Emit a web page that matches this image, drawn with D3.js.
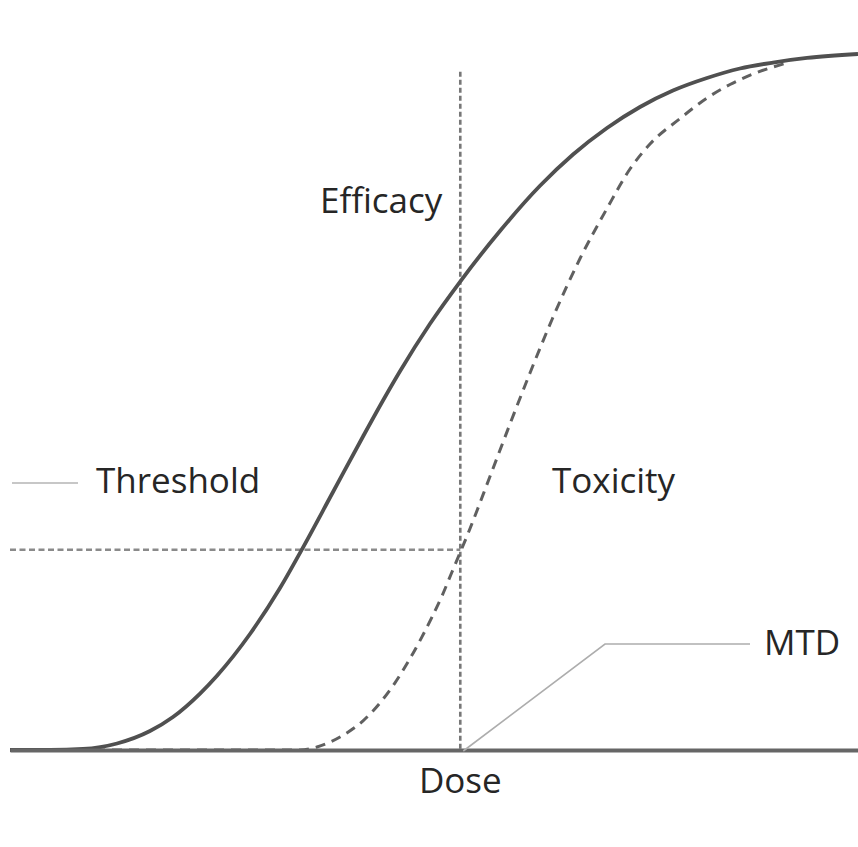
<!DOCTYPE html>
<html>
<head>
<meta charset="utf-8">
<script src="https://cdn.jsdelivr.net/npm/d3@7"></script>
<style>
  html, body { margin: 0; padding: 0; background: #fff; }
  svg { display: block; }
  text { font-family: "Open Sans", "Noto Sans", sans-serif; fill: #262626; }
</style>
</head>
<body>
<svg id="chart" width="858" height="847"></svg>
<script>
// ---- Data (dose in % of range, response in %) ----
const efficacyDose = [0, 4.72, 8.61, 12.62, 16.51, 19.22, 22.41, 24.41, 28.30, 31.84, 34.43, 38.09, 41.63, 44.22, 45.99, 49.53, 53.07, 57.78, 62.50, 66.39, 70.40, 74.29, 78.18, 82.19, 86.08, 89.98, 93.99, 100];
const efficacyResp = [0, 0, 0.14, 0.93, 2.71, 4.71, 8.06, 10.61, 16.57, 23.14, 28.67, 36.86, 44.79, 50.43, 54.11, 60.89, 66.89, 74.14, 80.60, 85.07, 88.86, 91.86, 94.21, 96.00, 97.36, 98.21, 98.86, 99.43];

const toxicityDose = [0, 34.20, 36.20, 39.27, 41.63, 43.63, 45.40, 46.93, 48.58, 49.76, 50.94, 52.12, 54.25, 56.60, 58.96, 61.32, 63.92, 67.22, 70.40, 73.11, 75.47, 79.01, 82.19, 84.91, 87.62, 91.39];
const toxicityResp = [0, 0, 0.43, 2.10, 4.17, 6.73, 9.60, 12.56, 16.16, 18.99, 22.01, 25.43, 31.64, 39.07, 46.57, 53.86, 61.50, 70.21, 77.36, 83.00, 86.57, 90.21, 93.14, 95.07, 96.57, 98.07];

const mtdDose = 53.1;          // maximum tolerated dose
const thresholdResp = 28.6;    // efficacy threshold
const verticalTopResp = 96.9;  // top of MTD guide

const labels = ["Efficacy", "Threshold", "Toxicity", "MTD", "Dose"];

// ---- Layout ----
const svg = d3.select("#chart");
const x = d3.scaleLinear().domain([0, 100]).range([10, 858]);
const y = d3.scaleLinear().domain([0, 100]).range([750, 50]);

const zip = (xs, ys) => xs.map((d, i) => [d, ys[i]]);
const line = d3.line().x(d => x(d[0])).y(d => y(d[1])).curve(d3.curveMonotoneX);

// threshold horizontal dashed guide
svg.append("line")
  .attr("x1", x(0)).attr("x2", x(mtdDose))
  .attr("y1", y(thresholdResp)).attr("y2", y(thresholdResp))
  .attr("stroke", "#8a8a8a").attr("stroke-width", 2.5)
  .attr("stroke-dasharray", "6,3.5");

// MTD vertical dashed guide
svg.append("line")
  .attr("x1", x(mtdDose)).attr("x2", x(mtdDose))
  .attr("y1", y(verticalTopResp)).attr("y2", y(0))
  .attr("stroke", "#777").attr("stroke-width", 2.6)
  .attr("stroke-dasharray", "5,3");

// toxicity curve (dashed)
svg.append("path")
  .datum(zip(toxicityDose, toxicityResp))
  .attr("d", line)
  .attr("fill", "none")
  .attr("stroke", "#606060").attr("stroke-width", 3)
  .attr("stroke-dasharray", "10,7");

// efficacy curve (solid)
svg.append("path")
  .datum(zip(efficacyDose, efficacyResp))
  .attr("d", line)
  .attr("fill", "none")
  .attr("stroke", "#505050").attr("stroke-width", 3.8);

// dose axis (baseline)
const axis = d3.axisBottom(x).ticks(0).tickSize(0).tickSizeOuter(0);
const gAxis = svg.append("g").attr("transform", `translate(0,${y(0)})`).call(axis);
gAxis.select(".domain").attr("stroke", "#666").attr("stroke-width", 4);
gAxis.selectAll(".tick").remove();

// callout lines
svg.append("line")
  .attr("x1", 12).attr("x2", 78).attr("y1", 483).attr("y2", 483)
  .attr("stroke", "#b5b5b5").attr("stroke-width", 1.6);

svg.append("polyline")
  .attr("points", [[x(mtdDose) + 3, y(0) + 1], [605, 644], [750, 644]].map(p => p.join(",")).join(" "))
  .attr("fill", "none")
  .attr("stroke", "#adadad").attr("stroke-width", 1.6);

// labels
const fs = 35;
svg.append("text").attr("x", 320).attr("y", 213).attr("font-size", fs).text(labels[0]);
svg.append("text").attr("x", 96).attr("y", 493).attr("font-size", fs).text(labels[1]);
svg.append("text").attr("x", 552).attr("y", 493).attr("font-size", fs).text(labels[2]);
svg.append("text").attr("x", 764).attr("y", 655).attr("font-size", fs).text(labels[3]);
svg.append("text").attr("x", x(mtdDose)).attr("y", 793).attr("font-size", fs)
  .attr("text-anchor", "middle").text(labels[4]);
</script>
</body>
</html>
